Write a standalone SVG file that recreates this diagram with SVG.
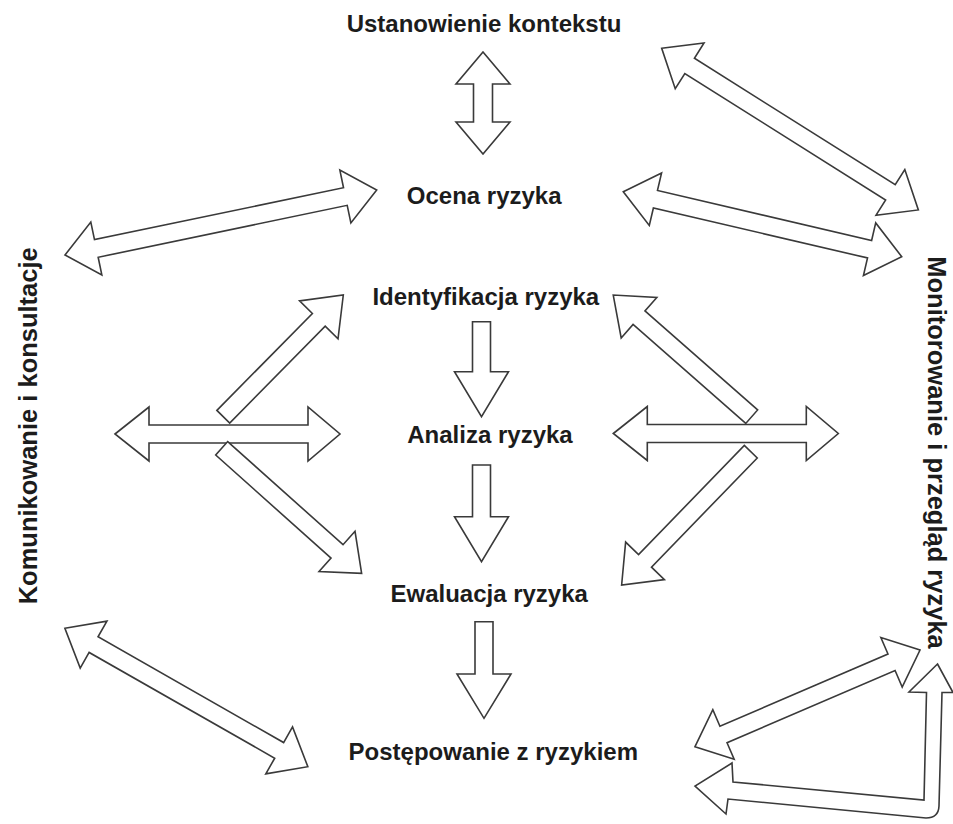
<svg xmlns="http://www.w3.org/2000/svg" width="953" height="824" viewBox="0 0 953 824">
<style>
.t{font-family:"Liberation Sans",Arial,sans-serif;font-weight:bold;font-size:24px;fill:#1c1c1c;text-anchor:middle}
.s{font-size:25.5px}
.a{fill:#fff;stroke:#3a3a3a;stroke-width:1.6;stroke-linejoin:miter}
</style>
<rect width="953" height="824" fill="#fff"/>
<g id="connectors">
  <!-- Ustanowienie <-> Ocena -->
  <polygon class="a" transform="translate(483,52) rotate(90)" points="0,0 32,-27 32,-9.5 70,-9.5 70,-27 102,0 70,27 70,9.5 32,9.5 32,27"/>
  <!-- Ustanowienie <-> Monitorowanie -->
  <polygon class="a" transform="translate(661.7,48.3) rotate(32.2)" points="0,0 33,-27 33,-9 270.3,-9 270.3,-27 303.3,0 270.3,27 270.3,9 33,9 33,27"/>
  <!-- Ocena <-> Monitorowanie -->
  <polygon class="a" transform="translate(623.3,191.7) rotate(13.14)" points="0,0 33,-27 33,-9 252.9,-9 252.9,-27 285.9,0 252.9,27 252.9,9 33,9 33,27"/>
  <!-- Komunikowanie <-> Ocena -->
  <polygon class="a" transform="translate(65,255) rotate(-11.78)" points="0,0 32,-27 32,-9 286.4,-9 286.4,-27 318.4,0 286.4,27 286.4,9 32,9 32,27"/>
  <!-- left horizontal -->
  <polygon class="a" transform="translate(115,434) rotate(0)" points="0,0 34,-27 34,-9 193,-9 193,-27 225,0 193,27 193,9 34,9 34,27"/>
  <!-- left up diagonal to Identyfikacja -->
  <polygon class="a" transform="translate(223.3,416.7) rotate(-45.4)" points="0,-9 136,-9 136,-27 170.9,0 136,27 136,9 0,9"/>
  <!-- left down diagonal to Ewaluacja -->
  <polygon class="a" transform="translate(221.7,448.3) rotate(41.8)" points="0,-9 154.7,-9 154.7,-27 187.7,0 154.7,27 154.7,9 0,9"/>
  <!-- right horizontal -->
  <polygon class="a" transform="translate(613.3,433.5) rotate(0)" points="0,0 34,-27 34,-9 193,-9 193,-27 225,0 193,27 193,9 34,9 34,27"/>
  <!-- right up diagonal to Identyfikacja -->
  <polygon class="a" transform="translate(751.7,416.7) rotate(-138.7)" points="0,-9 150,-9 150,-27 184.3,0 150,27 150,9 0,9"/>
  <!-- right down diagonal to Ewaluacja -->
  <polygon class="a" transform="translate(750.8,451.7) rotate(134.1)" points="0,-9 152,-9 152,-27 185.6,0 152,27 152,9 0,9"/>
  <!-- Komunikowanie <-> Postepowanie -->
  <polygon class="a" transform="translate(64.9,628.3) rotate(29.67)" points="0,0 33,-27 33,-9 246.6,-9 246.6,-27 279.6,0 246.6,27 246.6,9 33,9 33,27"/>
  <!-- Postepowanie <-> Monitorowanie -->
  <polygon class="a" transform="translate(695,746.7) rotate(-23.25)" points="0,0 31,-27 31,-9 213.9,-9 213.9,-27 244.9,0 213.9,27 213.9,9 31,9 31,27"/>
  <!-- bent arrow Monitorowanie -> Postepowanie -->
  <path class="a" d="M937.5,664 L953,692.5 L942,692.5 L939,806 Q938.5,818 926,818 L728,799 L726,814 L695,786 L732,763 L733,782 L924,800 L926.5,692.5 L909,692 Z"/>
  <!-- central flow -->
  <polygon class="a" points="472.5,321.7 490.5,321.7 490.5,371.7 508.5,371.7 481.5,416.7 454.5,371.7 472.5,371.7"/>
  <polygon class="a" points="472.5,465 490.5,465 490.5,516.7 508.5,516.7 481.5,561.7 454.5,516.7 472.5,516.7"/>
  <polygon class="a" points="475,621.7 493,621.7 493,674 511,674 484,718.3 457,674 475,674"/>
</g>
<g id="ustanowienie"><text class="t" x="484" y="32">Ustanowienie kontekstu</text></g>
<g id="ocena"><text class="t" x="484.2" y="204">Ocena ryzyka</text></g>
<g id="identyfikacja"><text class="t" x="485.8" y="305">Identyfikacja ryzyka</text></g>
<g id="analiza"><text class="t" x="490" y="443">Analiza ryzyka</text></g>
<g id="ewaluacja"><text class="t" x="489.2" y="602">Ewaluacja ryzyka</text></g>
<g id="postepowanie"><text class="t" x="493.3" y="760">Postępowanie z ryzykiem</text></g>
<g id="komunikowanie"><text class="t s" x="36.7" y="425.8" transform="rotate(-90 36.7 425.8)">Komunikowanie i konsultacje</text></g>
<g id="monitorowanie"><text class="t s" x="928" y="452.5" transform="rotate(90 928 452.5)">Monitorowanie i przegląd ryzyka</text></g>
</svg>
